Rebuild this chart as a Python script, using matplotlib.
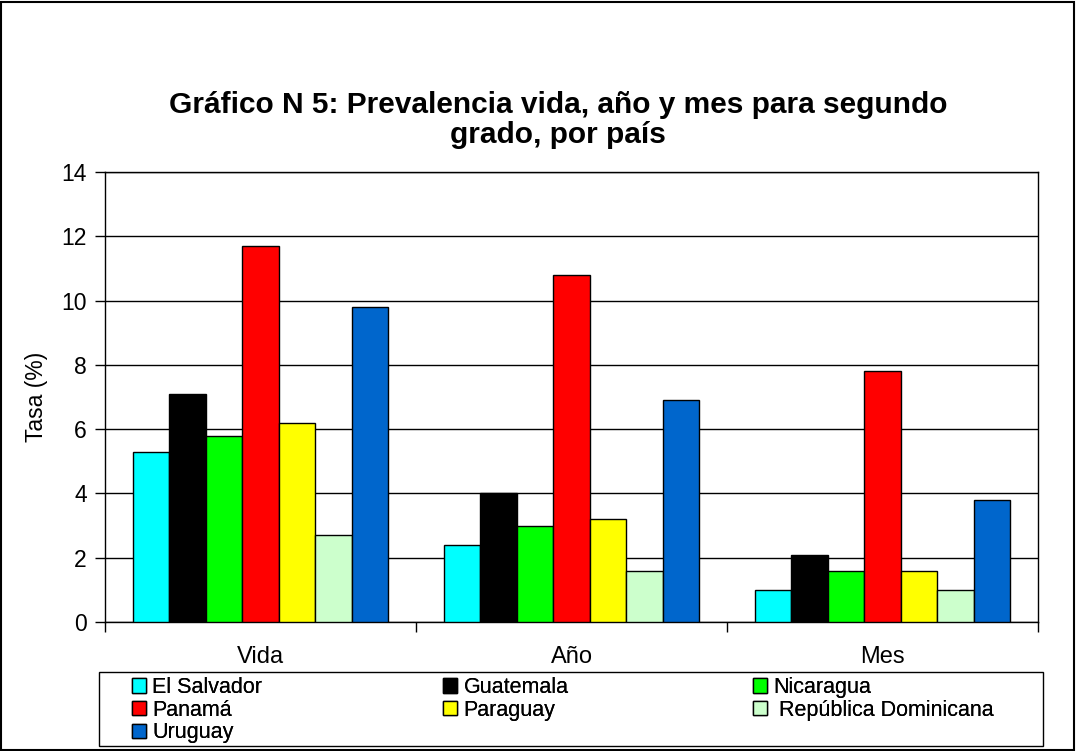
import matplotlib.pyplot as plt
from matplotlib.patches import Rectangle
import numpy as np

plt.rcParams['font.family'] = ['Liberation Sans', 'DejaVu Sans']

W, H = 1076, 751

categorias = ["Vida", "Año", "Mes"]
paises = ["El Salvador", "Guatemala", "Nicaragua", "Panamá", "Paraguay",
          "República Dominicana", "Uruguay"]
colores = ["#00FFFF", "#000000", "#00FF00", "#FF0000", "#FFFF00", "#CCFFCC", "#0066CC"]
el_salvador = [5.3, 2.4, 1.0]
guatemala = [7.1, 4.0, 2.1]
nicaragua = [5.8, 3.0, 1.6]
panama = [11.7, 10.8, 7.8]
paraguay = [6.2, 3.2, 1.6]
rep_dominicana = [2.7, 1.6, 1.0]
uruguay = [9.8, 6.9, 3.8]
series = [el_salvador, guatemala, nicaragua, panama, paraguay, rep_dominicana, uruguay]
yticks = [0, 2, 4, 6, 8, 10, 12, 14]

fig = plt.figure(figsize=(W / 100, H / 100), dpi=100)
ax = fig.add_axes([105 / W, 1 - 622 / H, 933 / W, 450 / H])

x = np.arange(len(categorias))
n = len(series)
grupo = 0.823
ancho = grupo / n
handles = []
for i, (nombre, vals) in enumerate(zip(paises, series)):
    pos = x - grupo / 2 + ancho * (i + 0.5)
    b = ax.bar(pos, vals, ancho, color=colores[i], edgecolor='black',
               linewidth=1.0, label=nombre, zorder=3)
    handles.append(b)

ax.set_xlim(-0.5, 2.5)
ax.set_ylim(0, 14)
ax.set_yticks(yticks)
ax.set_yticklabels([str(t) for t in yticks], fontsize=16.5)
ax.yaxis.grid(True, color='black', linewidth=1.0, zorder=0)
ax.set_axisbelow(True)

ax.set_xticks(x)
ax.set_xticklabels(categorias, fontsize=17)
ax.tick_params(axis='x', length=0, pad=17)
ax.set_xticks([-0.5, 0.5, 1.5, 2.5], minor=True)
ax.tick_params(axis='x', which='minor', length=7, width=1, direction='out')
ax.tick_params(axis='y', length=7, width=1, direction='out', pad=6)
ax.set_ylabel("Tasa (%)", fontsize=16.5, labelpad=10)
for s in ax.spines.values():
    s.set_linewidth(1.0)

fig.text(558 / W, 1 - 120 / H,
         "Gráfico N 5: Prevalencia vida, año y mes para segundo\ngrado, por país",
         ha='center', va='center', fontsize=21.5, fontweight='bold', linespacing=1.1)

# legend: three columns placed like the original, one frame around them
columnas = [[0, 3, 6], [1, 4], [2, 5]]
x_col = [132, 443, 753]
for idx, xc in zip(columnas, x_col):
    etiquetas = [(" " + paises[i]) if i == 5 else paises[i] for i in idx]
    leg = fig.legend([handles[i] for i in idx], etiquetas, loc='upper left',
                     bbox_to_anchor=(xc / W, 1 - 677 / H), frameon=False,
                     fontsize=15.5, handlelength=0.65, handleheight=0.65,
                     handletextpad=0.3, labelspacing=0.08, borderpad=0,
                     borderaxespad=0)
    fig.add_artist(leg)

fig.patches.append(Rectangle((99 / W, 1 - 746 / H), 944 / W, 74 / H,
                             transform=fig.transFigure, fill=False,
                             edgecolor='black', linewidth=1.0))
fig.patches.append(Rectangle((0.001, 0.001), 0.997, 0.997, transform=fig.transFigure,
                             fill=False, edgecolor='black', linewidth=1.5))

fig.savefig("out.png", dpi=100)
